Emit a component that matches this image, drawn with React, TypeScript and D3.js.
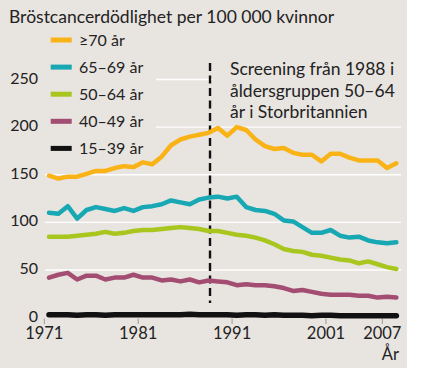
import React, { useEffect, useRef } from 'react';
import * as d3 from 'd3';

// data, deaths per 100 000 women
const years = [
  1971, 1972, 1973, 1974, 1975, 1976, 1977, 1978, 1979, 1980,
  1981, 1982, 1983, 1984, 1985, 1986, 1987, 1988, 1989, 1990,
  1991, 1992, 1993, 1994, 1995, 1996, 1997, 1998, 1999, 2000,
  2001, 2002, 2003, 2004, 2005, 2006, 2007, 2008,
];
const over70 = [
  149, 146, 148, 148, 151, 154, 154, 157, 159, 158,
  163, 161, 169, 181, 187, 190, 192, 194, 199, 191,
  200, 197, 187, 180, 177, 178, 173, 171, 171, 164,
  172, 172, 168, 165, 165, 165, 157, 162,
];
const age65to69 = [
  110, 109, 117, 104, 113, 116, 114, 112, 115, 112,
  116, 117, 119, 123, 121, 119, 124, 126, 127, 125,
  127, 116, 113, 112, 109, 102, 101, 95, 89, 89,
  92, 86, 84, 85, 81, 79, 78, 79,
];
const age50to64 = [
  85, 85, 85, 86, 87, 88, 90, 88, 89, 91,
  92, 92, 93, 94, 95, 94, 93, 91, 91, 89,
  87, 86, 84, 81, 77, 72, 70, 69, 66, 65,
  63, 61, 60, 57, 59, 56, 53, 51,
];
const age40to49 = [
  42, 45, 47, 40, 44, 44, 40, 42, 42, 45,
  42, 42, 39, 40, 38, 40, 37, 39, 38, 37,
  34, 35, 34, 34, 33, 31, 28, 29, 27, 25,
  24, 24, 24, 23, 23, 21, 22, 21,
];
const age15to39 = [
  3, 3, 3, 2.5, 3, 3, 2.5, 3, 3, 3,
  3, 3, 3, 3, 3, 3.5, 3, 3, 3, 3,
  2.5, 3, 3, 2.5, 3, 2.5, 2.5, 2.5, 2, 2.5,
  2.5, 2, 2, 2, 2, 2, 2, 2,
];

const seriesLabels = ['≥70 år', '65–69 år', '50–64 år', '40–49 år', '15–39 år'];
const seriesColors = ['#f9b317', '#17a8b3', '#a9c61f', '#a44d72', '#111111'];
const xTicks = [1971, 1981, 1991, 2001, 2007];
const yTicks = [0, 50, 100, 150, 200, 250];
const noteLines = ['Screening från 1988 i', 'åldersgruppen 50–64', 'år i Storbritannien'];
const screeningAt = 1988.65;

const FONT = 'Lato, "Open Sans", sans-serif';
const BG = '#e8e4e0';

export default function App() {
  const svgRef = useRef<SVGSVGElement>(null);

  useEffect(() => {
    const allSeries = [over70, age65to69, age50to64, age40to49, age15to39];
    const width = 425;
    const height = 368;

    const svg = d3.select(svgRef.current).attr('width', width).attr('height', height);
    svg.selectAll('*').remove();

    const xScale = d3.scaleLinear().domain([1971, 2007]).range([44.3, 382.3]);
    const yScale = d3.scaleLinear().domain([0, 250]).range([317.6, 79.5]);

    // panel background
    svg.append('rect').attr('width', width).attr('height', height).attr('fill', '#fff');
    svg.append('rect').attr('width', 407).attr('height', height).attr('fill', BG);

    // gridlines
    svg
      .append('g')
      .selectAll('line')
      .data(yTicks.filter((d) => d > 0))
      .enter()
      .append('line')
      .attr('x1', 45)
      .attr('x2', 401)
      .attr('y1', (d) => yScale(d))
      .attr('y2', (d) => yScale(d))
      .attr('stroke', '#fff')
      .attr('stroke-width', 1.3);

    // legend and note sit on plain boxes that hide the grid
    svg.append('rect').attr('x', 44).attr('y', 28).attr('width', 112).attr('height', 132).attr('fill', BG);
    svg.append('rect').attr('x', 213).attr('y', 55).attr('width', 192).attr('height', 68).attr('fill', BG);

    // y axis labels
    svg
      .append('g')
      .selectAll('text')
      .data(yTicks)
      .enter()
      .append('text')
      .attr('x', 38)
      .attr('y', (d) => yScale(d) - 1.5)
      .attr('dy', '0.35em')
      .attr('text-anchor', 'end')
      .style('font-family', FONT)
      .style('font-size', '16px')
      .attr('fill', '#222')
      .text((d) => d);

    // x ticks and labels
    const xAxis = svg.append('g');
    xAxis
      .selectAll('line')
      .data(xTicks)
      .enter()
      .append('line')
      .attr('x1', (d) => xScale(d))
      .attr('x2', (d) => xScale(d))
      .attr('y1', 318.5)
      .attr('y2', 324)
      .attr('stroke', '#999')
      .attr('stroke-width', 1);
    xAxis
      .selectAll('text')
      .data(xTicks)
      .enter()
      .append('text')
      .attr('x', (d) => xScale(d))
      .attr('y', 339)
      .attr('text-anchor', 'middle')
      .style('font-family', FONT)
      .style('font-size', '16.5px')
      .attr('fill', '#222')
      .text((d) => d);
    svg
      .append('text')
      .attr('x', 399)
      .attr('y', 360)
      .attr('text-anchor', 'end')
      .style('font-family', FONT)
      .style('font-size', '16.5px')
      .attr('fill', '#222')
      .text('År');

    // screening marker
    svg
      .append('line')
      .attr('x1', xScale(screeningAt))
      .attr('x2', xScale(screeningAt))
      .attr('y1', 63)
      .attr('y2', 303)
      .attr('stroke', '#111')
      .attr('stroke-width', 2.4)
      .attr('stroke-dasharray', '8,4.5');

    // lines, data at mid-year
    const line = d3
      .line<number>()
      .x((d, i) => xScale(years[i] + 0.5))
      .y((d) => yScale(d));

    svg
      .append('g')
      .selectAll('path')
      .data(allSeries.slice().reverse())
      .enter()
      .append('path')
      .attr('d', (d) => line(d))
      .attr('fill', 'none')
      .attr('stroke', (d, i) => seriesColors[allSeries.length - 1 - i])
      .attr('stroke-width', (d, i) => (i === 0 ? 5.5 : 4.5))
      .attr('stroke-linejoin', 'round')
      .attr('stroke-linecap', 'round');

    // title
    svg
      .append('text')
      .attr('x', 9)
      .attr('y', 23)
      .style('font-family', FONT)
      .style('font-size', '17.5px')
      .attr('fill', '#222')
      .text('Bröstcancerdödlighet per 100 000 kvinnor');

    // legend
    const legend = svg
      .append('g')
      .selectAll('g')
      .data(seriesLabels)
      .enter()
      .append('g')
      .attr('transform', (d, i) => `translate(0, ${40 + i * 27.1})`);
    legend
      .append('rect')
      .attr('x', 50.7)
      .attr('y', -2.5)
      .attr('width', 21)
      .attr('height', 5)
      .attr('fill', (d, i) => seriesColors[i]);
    legend
      .append('text')
      .attr('x', 79)
      .attr('y', 0)
      .attr('dy', '0.35em')
      .style('font-family', FONT)
      .style('font-size', '16px')
      .attr('fill', '#222')
      .text((d) => d);

    // note
    svg
      .append('g')
      .selectAll('text')
      .data(noteLines)
      .enter()
      .append('text')
      .attr('x', 230)
      .attr('y', (d, i) => 75 + i * 21.7)
      .style('font-family', FONT)
      .style('font-size', '17.5px')
      .attr('fill', '#222')
      .text((d) => d);
  }, []);

  return <svg ref={svgRef} style={{ position: 'absolute', left: 0, top: 0, display: 'block' }} />;
}
